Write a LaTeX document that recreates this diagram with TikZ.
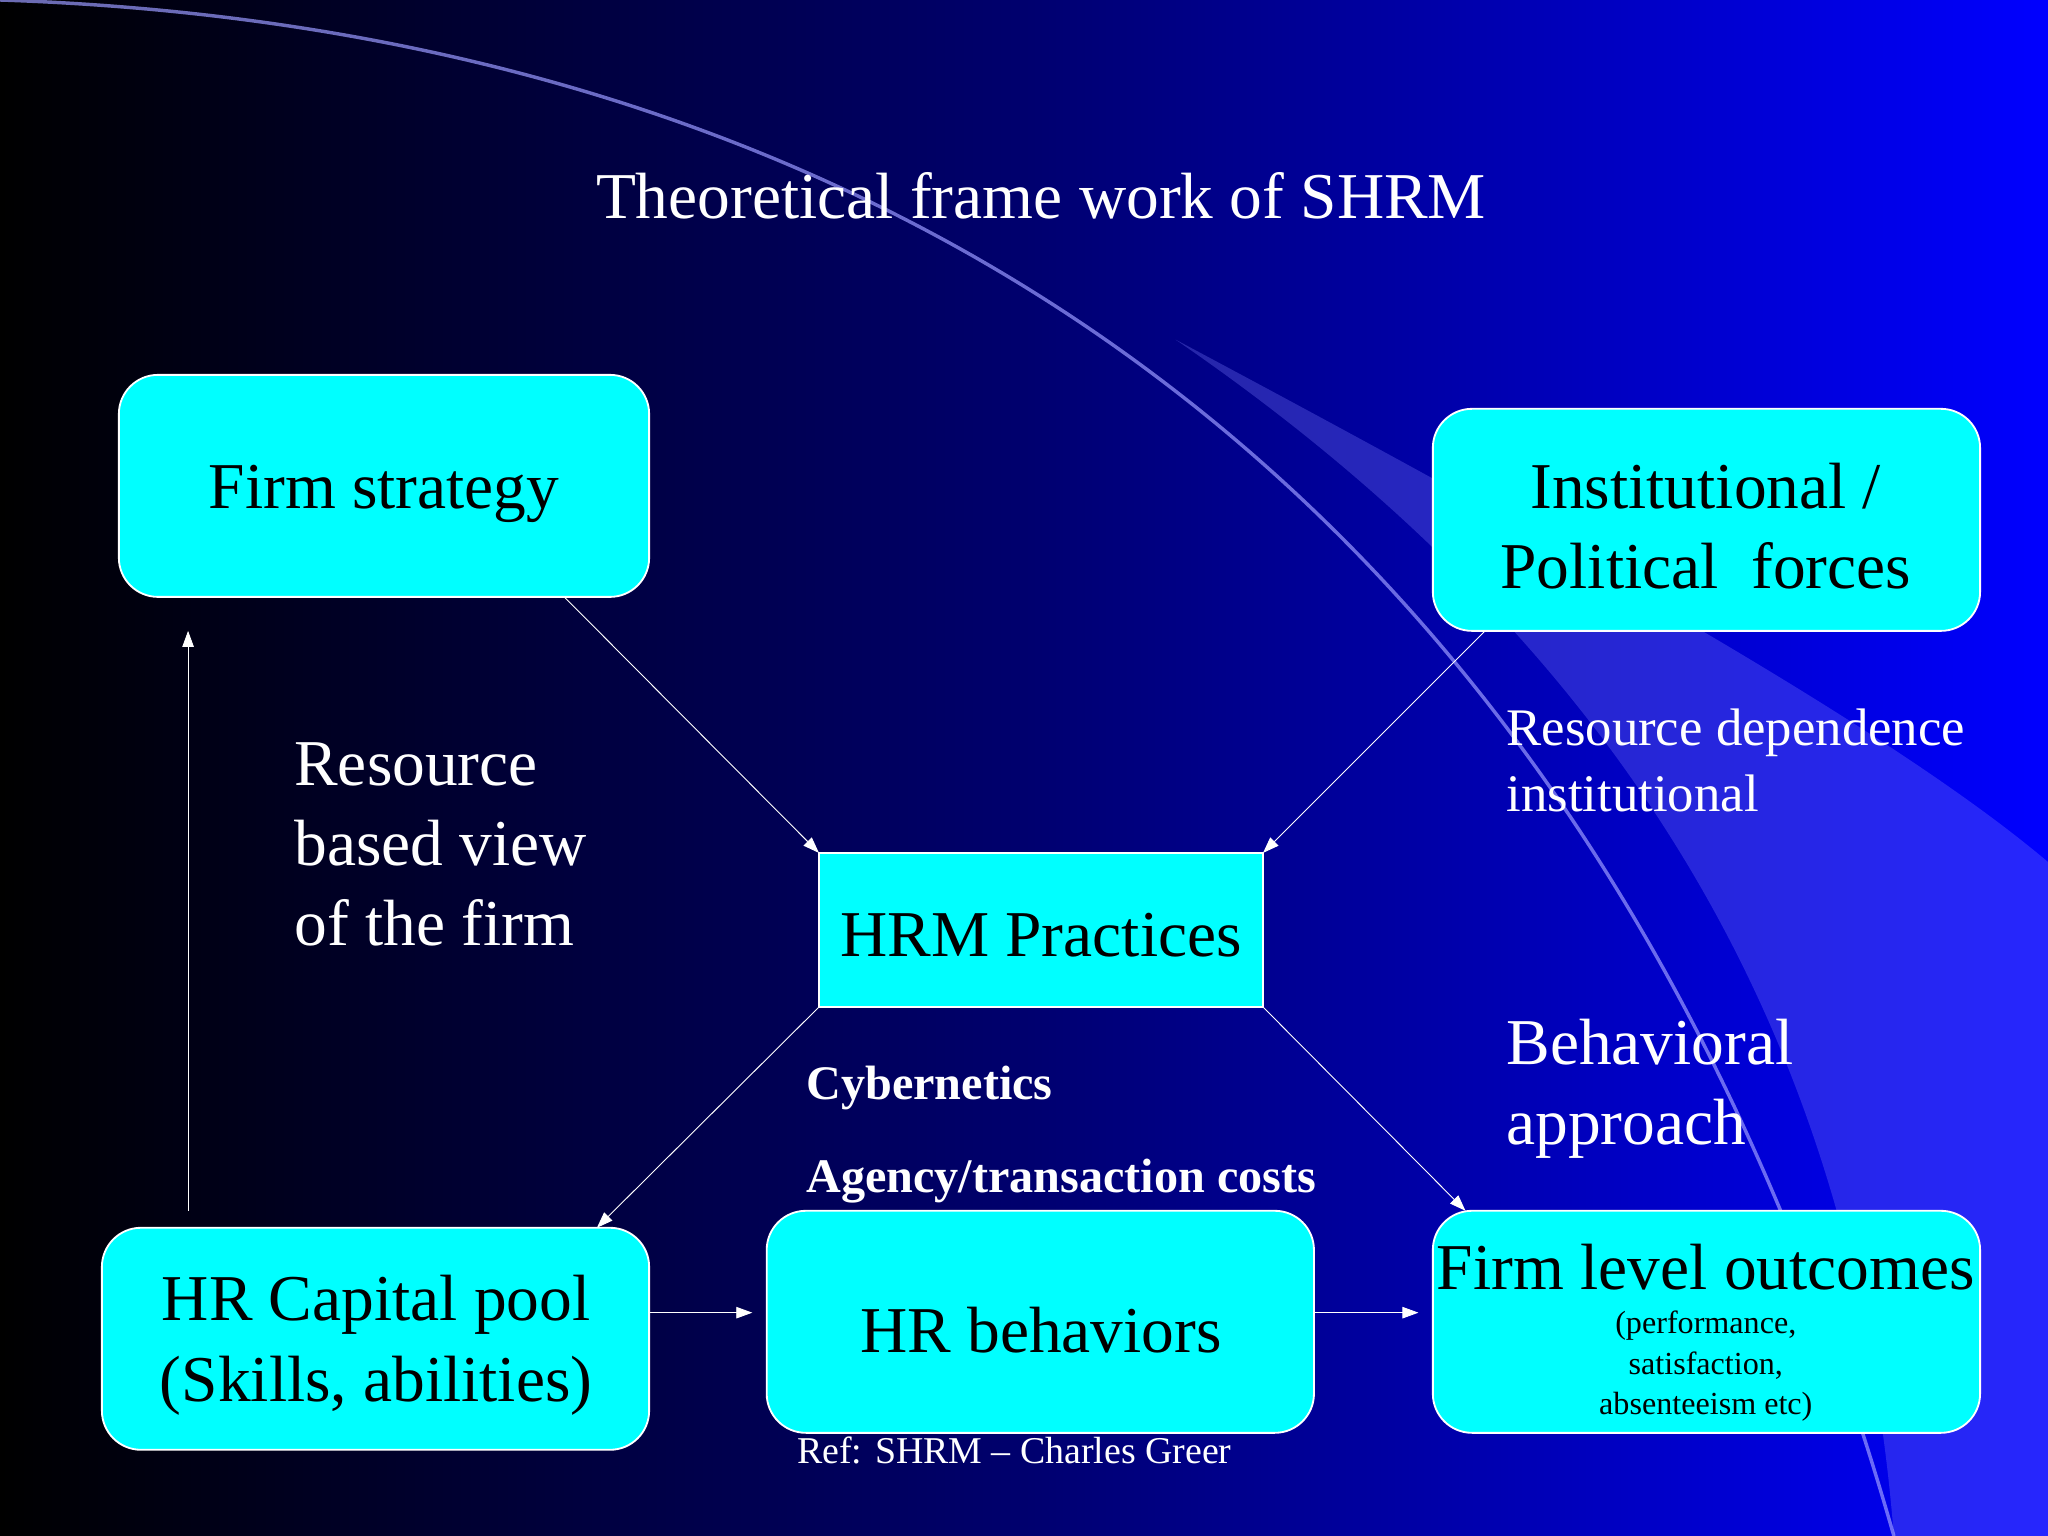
\documentclass[tikz,border=0pt]{standalone}
\usepackage{fontspec}
\setmainfont{Liberation Serif}
\usetikzlibrary{arrows.meta}
\definecolor{cy}{RGB}{0,255,255}
\definecolor{bl}{RGB}{0,0,255}
\definecolor{nv}{RGB}{0,0,110}
\begin{document}
\begin{tikzpicture}[x=0.02cm,y=-0.02cm,
 bx/.style={fill=cy,draw=white,thick,rounded corners=0.6cm},
 arr/.style={draw=white,thin,-{Triangle[width=5pt,length=7pt]}},
 lab/.style={text=white,align=left,anchor=north west,inner sep=0pt}]
\shade[left color=black,right color=bl,middle color=nv] (0,0) rectangle (1568,1176);
\useasboundingbox (0,0) rectangle (1568,1176);
% decorative arcs
\fill[blue!50!white,opacity=0.3] (900,260) .. controls (1200,420) and (1450,560) .. (1568,660) -- (1568,1176) -- (1450,1176) .. controls (1420,800) and (1250,500) .. (900,260);
\draw[blue!40!white,line width=1.5pt,opacity=0.7] (0,0) .. controls (600,20) and (1200,300) .. (1450,1176);
\node[text=white,font=\fontsize{28.5}{30}\selectfont] (title) at (797,150) {Theoretical frame work of SHRM};
\fill[bx] (91,287) rectangle (497,457);
\node[font=\fontsize{28.5}{30}\selectfont] (fst) at (294,378) {Firm strategy};
\fill[bx] (1097,313) rectangle (1516,483);
\node[align=center,font=\fontsize{28.5}{35}\selectfont] (inst) at (1306,403) {Institutional /\\Political\ \ forces};
\fill[cy,draw=white,thick] (627,653) rectangle (967,771);
\node[font=\fontsize{28.5}{30}\selectfont] (hrm) at (797,716) {HRM Practices};
\fill[bx] (78,940) rectangle (497,1110);
\node[align=center,font=\fontsize{28.5}{35}\selectfont] (cap) at (288,1030) {HR Capital pool\\(Skills, abilities)};
\fill[bx] (587,927) rectangle (1006,1097);
\node[font=\fontsize{28.5}{30}\selectfont] (beh) at (797,1018) {HR behaviors};
\fill[bx] (1097,927) rectangle (1516,1097);
\node[font=\fontsize{28.5}{30}\selectfont] (out) at (1306,970) {Firm level outcomes};
\node[align=center,font=\fontsize{14}{17.5}\selectfont] (outs) at (1306,1046) {(performance,\\satisfaction,\\absenteeism etc)};
% arrows
\coordinate (a1) at (432,457); \coordinate (a2) at (627,653);
\coordinate (b1) at (1137,483); \coordinate (b2) at (967,653);
\coordinate (c1) at (627,771); \coordinate (c2) at (457,940);
\coordinate (d1) at (967,771); \coordinate (d2) at (1122,927);
\coordinate (e1) at (497,1005); \coordinate (e2) at (576,1005);
\coordinate (f1) at (1006,1005); \coordinate (f2) at (1086,1005);
\coordinate (g1) at (144,927); \coordinate (g2) at (144,483);
\draw[arr] (a1)--(a2); \draw[arr] (b1)--(b2); \draw[arr] (c1)--(c2);
\draw[arr] (d1)--(d2); \draw[arr] (e1)--(e2); \draw[arr] (f1)--(f2); \draw[arr] (g1)--(g2);
% labels
\node[lab,font=\fontsize{28.5}{35}\selectfont] (rbv) at (225,568) {Resource\\based view\\of the firm};
\node[lab,font=\fontsize{23}{29}\selectfont] (rd) at (1153,542) {Resource dependence\\institutional};
\node[lab,font=\fontsize{28.5}{35}\selectfont] (ba) at (1153,780) {Behavioral\\approach};
\node[lab,font=\bfseries\fontsize{21}{20}\selectfont] (cyb) at (617,816) {Cybernetics};
\node[lab,font=\bfseries\fontsize{21}{20}\selectfont] (ag) at (617,887) {Agency/transaction costs};
\node[lab,font=\fontsize{16.5}{16}\selectfont] (ref) at (610,1100) {Ref: SHRM -- Charles Greer};
\end{tikzpicture}
\end{document}
